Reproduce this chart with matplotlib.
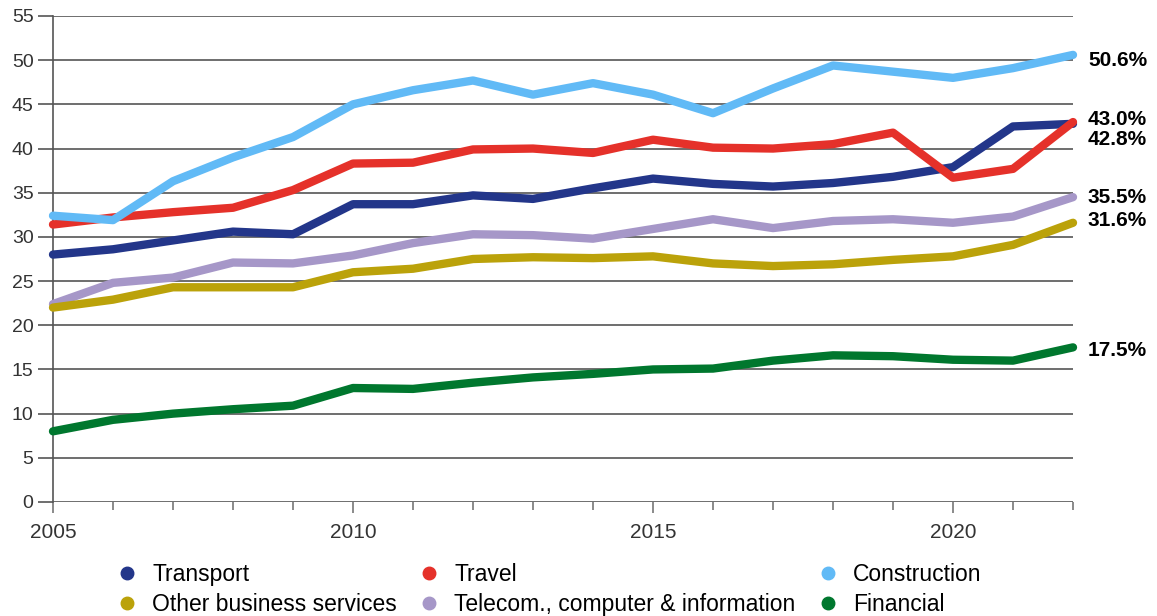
import numpy as np
import matplotlib.pyplot as plt
from matplotlib.lines import Line2D

plt.rcParams['font.family'] = ['Liberation Sans', 'DejaVu Sans']

# Data
years = list(range(2005, 2023))
transport = [28.0, 28.6, 29.6, 30.6, 30.3, 33.7, 33.7, 34.7, 34.3, 35.5,
             36.6, 36.0, 35.7, 36.1, 36.8, 37.9, 42.5, 42.8]
travel = [31.4, 32.2, 32.8, 33.3, 35.3, 38.3, 38.4, 39.9, 40.0, 39.5,
          41.0, 40.1, 40.0, 40.5, 41.8, 36.7, 37.7, 43.0]
construction = [32.4, 31.9, 36.3, 39.0, 41.3, 45.0, 46.6, 47.7, 46.1, 47.4,
                46.1, 44.0, 46.8, 49.4, 48.7, 48.0, 49.1, 50.6]
telecom = [22.4, 24.8, 25.4, 27.1, 27.0, 27.9, 29.3, 30.3, 30.2, 29.8,
           30.9, 32.0, 31.0, 31.8, 32.0, 31.6, 32.3, 34.5]
other_business = [22.0, 22.9, 24.3, 24.3, 24.3, 26.0, 26.4, 27.5, 27.7, 27.6,
                  27.8, 27.0, 26.7, 26.9, 27.4, 27.8, 29.1, 31.6]
financial = [8.0, 9.3, 10.0, 10.5, 10.9, 12.9, 12.8, 13.5, 14.1, 14.5,
             15.0, 15.1, 16.0, 16.6, 16.5, 16.1, 16.0, 17.5]

end_labels = ['50.6%', '43.0%', '42.8%', '35.5%', '31.6%', '17.5%']

c_transport = '#23368a'
c_travel = '#e5312a'
c_construction = '#61baf6'
c_telecom = '#a697c8'
c_other = '#bba20a'
c_financial = '#00772e'

fig = plt.figure(figsize=(11.57, 6.16), dpi=100)
ax = fig.add_axes([53/1157, 1 - 502/616, (1073 - 53)/1157, (502 - 16)/616])

lw = 6
style = dict(lw=lw, solid_capstyle='round', solid_joinstyle='round', clip_on=False)
ax.plot(years, transport, color=c_transport, zorder=3, **style)
ax.plot(years, travel, color=c_travel, zorder=4, **style)
ax.plot(years, construction, color=c_construction, zorder=5, **style)
ax.plot(years, telecom, color=c_telecom, zorder=3, **style)
ax.plot(years, other_business, color=c_other, zorder=4, **style)
ax.plot(years, financial, color=c_financial, zorder=3, **style)

# end-of-line labels
ends = [construction[-1], travel[-1], transport[-1], telecom[-1], other_business[-1], financial[-1]]
offsets = [-6, 3, -16, 0, 2, -3]
for lab, v, off in zip(end_labels, ends, offsets):
    ax.annotate(lab, xy=(years[-1], v), xytext=(15, off), textcoords='offset pixels',
                ha='left', va='center', fontsize=15, fontweight='bold', color='black')

ax.set_xlim(2005, 2022)
ax.set_ylim(0, 55)
ax.set_yticks(np.arange(0, 56, 5))
ax.set_xticks([2005, 2010, 2015, 2020])
ax.set_xticks(years, minor=True)

ax.yaxis.grid(True, color='#555555', lw=1.2)
ax.set_axisbelow(True)
for s in ['top', 'right', 'bottom']:
    ax.spines[s].set_visible(False)
ax.spines['left'].set_color('#555555')
ax.spines['left'].set_linewidth(1.2)

ax.tick_params(axis='y', length=11, width=1.2, color='#555555', labelsize=14, labelcolor='#333333', pad=3)
ax.tick_params(axis='x', which='major', length=8, width=1.2, color='#777777', labelsize=15, labelcolor='#333333', pad=7)
ax.tick_params(axis='x', which='minor', length=6, width=1.2, color='#777777')

# legend
handles = [
    Line2D([], [], marker='o', ls='', color=c_transport, markersize=9, label='Transport'),
    Line2D([], [], marker='o', ls='', color=c_other, markersize=9, label='Other business services'),
    Line2D([], [], marker='o', ls='', color=c_travel, markersize=9, label='Travel'),
    Line2D([], [], marker='o', ls='', color=c_telecom, markersize=9, label='Telecom., computer & information'),
    Line2D([], [], marker='o', ls='', color=c_construction, markersize=9, label='Construction'),
    Line2D([], [], marker='o', ls='', color=c_financial, markersize=9, label='Financial'),
]
fig.legend(handles=handles, ncol=3, loc='upper left', bbox_to_anchor=(118/1157, 1 - 563/616),
           frameon=False, fontsize=16.5, handlelength=0.8, handletextpad=0.7,
           columnspacing=1.0, labelspacing=0.3, borderpad=0, borderaxespad=0)

fig.savefig('out.png', dpi=100)
